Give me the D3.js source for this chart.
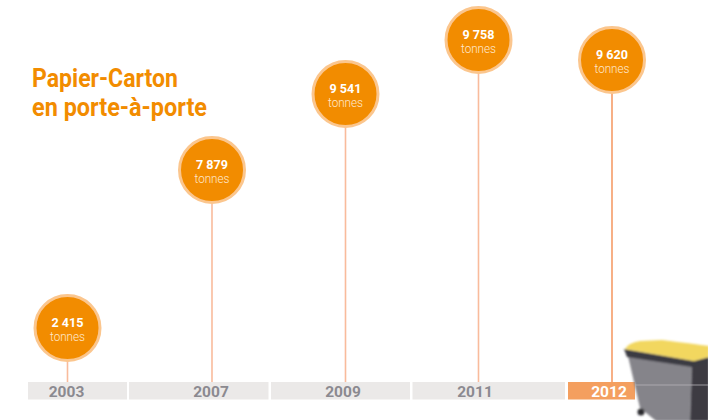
<!DOCTYPE html>
<html>
<head>
<meta charset="utf-8">
<script src="https://cdn.jsdelivr.net/npm/d3@7"></script>
<style>
  html, body { margin: 0; padding: 0; background: #fff; }
  svg { display: block; }
  text { font-family: "Roboto", "Liberation Sans", sans-serif; }
</style>
</head>
<body>
<script>
var years = ["2003", "2007", "2009", "2011", "2012"];
var tonnes = [2415, 7879, 9541, 9758, 9620];
var valueLabels = ["2 415", "7 879", "9 541", "9 758", "9 620"];
var unitLabel = "tonnes";
var titleLines = ["Papier-Carton", "en porte-à-porte"];

var width = 708, height = 420;

// the original is not drawn to a regular scale, so both scales are piecewise
var x = d3.scaleOrdinal().domain(years).range([67.5, 212, 345.5, 478.5, 612]);
var y = d3.scaleLinear().domain([2415, 7879, 9541, 9620, 9758]).range([328, 170, 94, 60, 40]);
var bandLeft = d3.scaleOrdinal().domain(years).range([28, 129, 271, 412.5, 568]);
var bandRight = d3.scaleOrdinal().domain(years).range([127, 268.5, 410, 565, 635]);
var labelX = d3.scaleOrdinal().domain(years).range([66.5, 211, 343, 475, 609]);

var svg = d3.select("body").append("svg")
    .attr("width", width)
    .attr("height", height);

var defs = svg.append("defs");
defs.append("filter").attr("id", "soft")
  .append("feGaussianBlur").attr("stdDeviation", 0.8);

// title
svg.append("g").selectAll("text")
  .data(titleLines)
  .join("text")
    .attr("x", 32)
    .attr("y", function(d, i) { return 87 + i * 29; })
    .attr("fill", "#f28c00")
    .attr("font-size", 25)
    .attr("font-weight", 700)
    .attr("textLength", function(d, i) { return i === 0 ? 146 : 175; })
    .attr("lengthAdjust", "spacingAndGlyphs")
    .text(function(d) { return d; });

// year bands
var axis = svg.append("g");
axis.selectAll("rect")
  .data(years)
  .join("rect")
    .attr("x", function(d) { return bandLeft(d); })
    .attr("y", 382)
    .attr("width", function(d) { return bandRight(d) - bandLeft(d); })
    .attr("height", 17.5)
    .attr("fill", function(d) { return d === "2012" ? "#f49f5f" : "#ebe9e8"; });

// stems
svg.append("g").selectAll("line")
  .data(years)
  .join("line")
    .attr("x1", function(d) { return x(d); })
    .attr("x2", function(d) { return x(d); })
    .attr("y1", function(d, i) { return y(tonnes[i]); })
    .attr("y2", 382)
    .attr("stroke", function(d) { return d === "2012" ? "#f59c68" : "#f9bb9c"; })
    .attr("stroke-width", 1.6);

axis.selectAll("text")
  .data(years)
  .join("text")
    .attr("x", function(d) { return labelX(d); })
    .attr("y", 397)
    .attr("text-anchor", "middle")
    .attr("font-size", 15.5)
    .attr("font-weight", 700)
    .attr("fill", function(d) { return d === "2012" ? "#fff" : "#8b8a90"; })
    .text(function(d) { return d; });

// wheelie bin picture, cropped by the right edge
var bin = svg.append("g").attr("filter", "url(#soft)");
bin.append("path").attr("d", "M628,356 L692,366 L690,421 L656,421 L640,408 Z").attr("fill", "#85848a");
bin.append("path").attr("d", "M692,364 L709,360 L709,421 L690,421 Z").attr("fill", "#3c3b42");
bin.append("path").attr("d", "M624,349 L694,361 L709,357 L709,362 L692,367 L627,357 Z").attr("fill", "#3a3a42");
bin.append("path").attr("d", "M625,349 Q628,343 640,341 L662,340 Q695,344 709,346 L709,357 L694,361 Z").attr("fill", "#f2d75e");
bin.append("circle").attr("cx", 641).attr("cy", 412).attr("r", 3.5).attr("fill", "#2a2a2e");
svg.append("line")
    .attr("x1", 635).attr("x2", 708)
    .attr("y1", 385).attr("y2", 385)
    .attr("stroke", "#b5b3b7")
    .attr("stroke-width", 0.8);

// bubbles
var bubble = svg.append("g").selectAll("g")
  .data(years)
  .join("g")
    .attr("transform", function(d, i) { return "translate(" + x(d) + "," + y(tonnes[i]) + ")"; });

bubble.append("circle")
    .attr("r", 32.5)
    .attr("fill", "#f28c00")
    .attr("stroke", "#fbc68e")
    .attr("stroke-width", 3);

bubble.append("text")
    .attr("y", -1.5)
    .attr("text-anchor", "middle")
    .attr("font-size", 13)
    .attr("font-weight", 700)
    .attr("fill", "#fff")
    .attr("textLength", 32)
    .attr("lengthAdjust", "spacingAndGlyphs")
    .text(function(d, i) { return valueLabels[i]; });

bubble.append("text")
    .attr("y", 13)
    .attr("text-anchor", "middle")
    .attr("font-size", 13)
    .attr("font-weight", 300)
    .attr("fill", "#ffe9d0")
    .attr("textLength", 35)
    .attr("lengthAdjust", "spacingAndGlyphs")
    .text(unitLabel);
</script>
</body>
</html>
